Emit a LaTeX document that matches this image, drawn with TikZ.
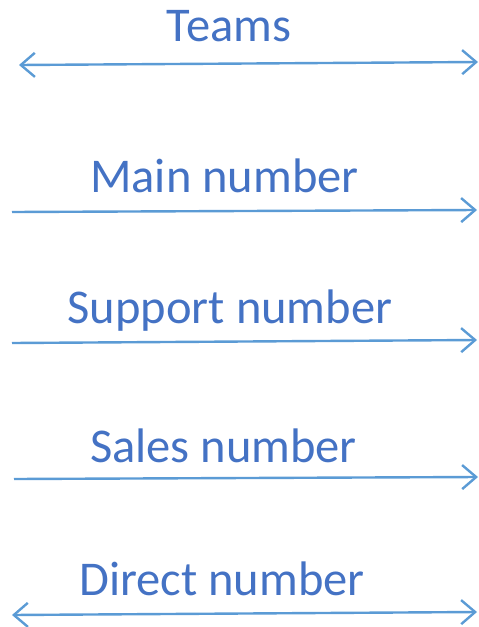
\documentclass[tikz,border=0pt]{standalone}
\usepackage{fontspec}
\setmainfont{Carlito}
\usetikzlibrary{arrows.meta}
\definecolor{linkblue}{HTML}{5B9BD5}
\definecolor{labelblue}{HTML}{4472C4}
\begin{document}
\begin{tikzpicture}[x=1pt,y=-1pt,
  tip/.tip={Straight Barb[length=14pt,width=24pt,line width=2.4pt]},
  link/.style={draw=linkblue,line width=2.4pt,-tip},
  twoway/.style={link,tip-tip},
  caption/.style={text=labelblue,anchor=base,inner sep=0pt,
    font=\fontsize{48.5}{58}\selectfont}]
\useasboundingbox (0,0) rectangle (479,627);
% Teams
\node[caption] (teams) at (229,41) {Teams};
\coordinate (t1) at (19,65);
\coordinate (t2) at (478,62);
\draw[twoway] (t1) -- (t2);
% Main number
\node[caption] (main) at (224.5,192) {Main number};
\coordinate (m1) at (12,212);
\coordinate (m2) at (477,210);
\draw[link] (m1) -- (m2);
% Support number
\node[caption] (support) at (230,323) {Support number};
\coordinate (s1) at (12,343);
\coordinate (s2) at (477,340);
\draw[link] (s1) -- (s2);
% Sales number
\node[caption] (sales) at (223.5,462) {Sales number};
\coordinate (a1) at (14,479);
\coordinate (a2) at (478,477);
\draw[link] (a1) -- (a2);
% Direct number
\node[caption] (direct) at (222,595) {Direct number};
\coordinate (d1) at (12,615);
\coordinate (d2) at (477,612);
\draw[twoway] (d1) -- (d2);
\end{tikzpicture}
\end{document}
